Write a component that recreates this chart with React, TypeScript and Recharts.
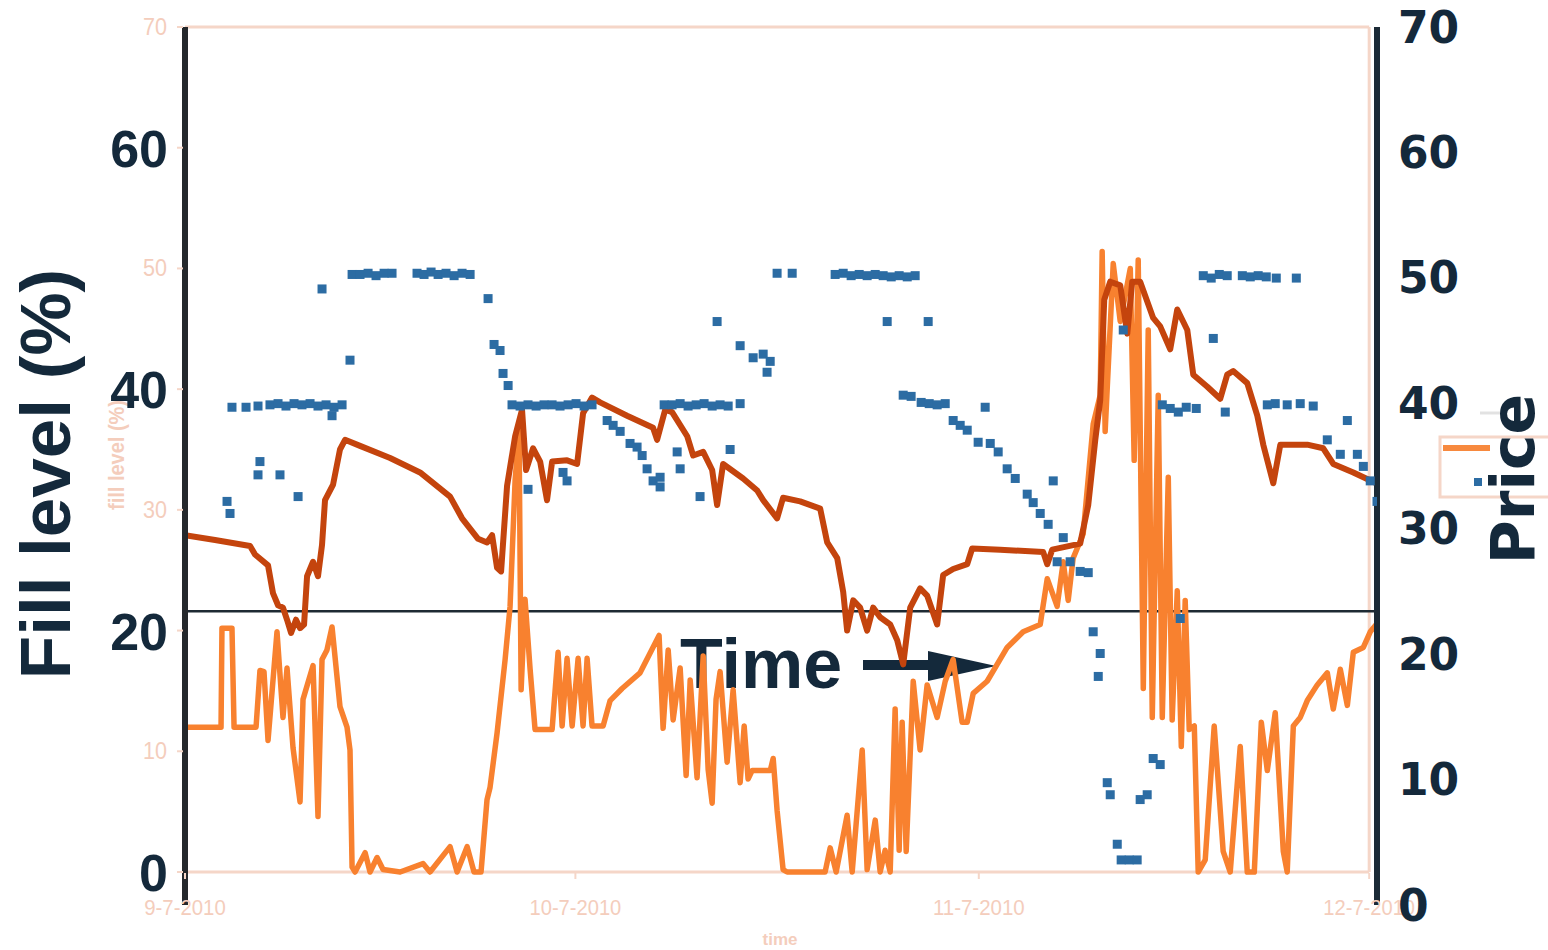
import React from 'react';
import { ComposedChart, Line, Scatter, XAxis, YAxis, ReferenceLine, Customized } from 'recharts';

const W = 1548;
const H = 950;
const NAVY = '#14293B';
const PINK_TEXT = '#F4CDBC';
const PINK_LINE = '#F5D6C8';
const ORANGE = '#F8812F';
const RUST = '#C4440D';
const BLUE = '#2C6CA3';

// x = days since 7 Sep 2010
const dateTicks = [0, 30, 61, 91];
const dateLabels = ['9-7-2010', '10-7-2010', '11-7-2010', '12-7-2010'];
const fillTicks = [0, 10, 20, 30, 40, 50, 60, 70];
const fillBoldTicks = [0, 20, 40, 60];
const priceTicks = [0, 10, 20, 30, 40, 50, 60, 70];
const thresholdLevel = 21.6;

// light orange series [day, value]
const fillLevelPts = [
  [0, 12.0], [2.77, 12.0], [2.84, 20.2], [3.61, 20.2], [3.77, 12.0], [5.46, 12.0], [5.76, 16.7], [6.07, 16.6], [6.38, 10.9], [7.07, 19.9],
  [7.53, 12.8], [7.84, 16.9], [8.30, 10.3], [8.84, 5.8], [9.07, 14.3], [9.84, 17.1], [10.22, 4.6], [10.53, 17.6], [10.91, 18.4], [11.30, 20.3],
  [11.91, 13.7], [12.45, 12.0], [12.68, 10.1], [12.84, 0.4], [13.07, 0], [13.84, 1.6], [14.22, 0], [14.76, 1.2], [15.22, 0.2], [16.53, 0],
  [18.29, 0.7], [18.83, 0], [20.37, 2.1], [20.91, 0], [21.68, 2.1], [22.21, 0], [22.75, 0], [23.21, 6.0], [23.44, 7.0], [23.98, 11.5],
  [24.60, 17.6], [24.98, 22.0], [25.37, 32.5], [25.67, 36.6], [25.83, 15.1], [26.13, 22.6], [26.52, 16.8], [26.90, 11.8], [28.21, 11.8], [28.67, 18.2],
  [28.98, 12.1], [29.36, 17.7], [29.75, 12.1], [30.21, 17.7], [30.59, 12.1], [30.90, 17.7], [31.28, 12.1], [32.13, 12.1], [32.67, 14.2], [33.59, 15.2],
  [34.97, 16.5], [36.43, 19.6], [36.74, 11.9], [37.13, 18.4], [37.51, 12.6], [38.05, 16.9], [38.51, 8.0], [38.82, 15.9], [39.35, 7.8], [39.82, 17.9],
  [40.20, 8.5], [40.51, 5.7], [40.81, 14.3], [41.12, 16.6], [41.66, 9.1], [42.12, 15.1], [42.66, 7.4], [42.97, 12.1], [43.27, 7.7], [43.58, 8.4],
  [44.97, 8.4], [45.20, 9.4], [45.50, 5.1], [45.96, 0.2], [46.27, 0], [49.19, 0], [49.58, 2.0], [50.04, 0], [50.88, 4.7], [51.27, 0],
  [52.04, 10.1], [52.42, 0.2], [53.04, 4.3], [53.42, 0], [53.80, 1.8], [54.19, 0], [54.57, 13.5], [54.88, 1.8], [55.11, 12.4], [55.42, 1.7],
  [55.96, 15.8], [56.49, 10.1], [57.03, 15.5], [57.80, 12.8], [58.42, 15.8], [59.03, 17.6], [59.72, 12.4], [60.11, 12.4], [60.57, 14.8], [61.64, 15.8],
  [62.41, 17.2], [63.18, 18.6], [64.41, 19.9], [65.72, 20.5], [66.26, 24.3], [67.02, 22.0], [67.49, 25.7], [67.87, 22.5], [68.25, 26.0], [69.02, 28.0],
  [69.79, 37.1], [70.33, 39.5], [70.48, 51.4], [70.71, 36.5], [71.33, 50.4], [71.87, 45.6], [72.64, 50.0], [72.94, 34.1], [73.25, 50.7], [73.64, 15.2],
  [74.02, 44.9], [74.33, 12.8], [74.79, 39.5], [75.10, 12.8], [75.56, 32.7], [75.86, 12.6], [76.25, 23.3], [76.56, 10.4], [76.86, 22.5], [77.17, 11.8],
  [77.56, 12.1], [77.86, 0], [78.40, 1.0], [79.09, 12.1], [79.78, 1.7], [80.32, 0], [81.09, 10.4], [81.63, 0], [82.17, 0], [82.71, 12.4],
  [83.17, 8.4], [83.78, 13.2], [84.40, 1.7], [84.70, 0], [85.17, 12.1], [85.70, 12.8], [86.24, 14.2], [87.01, 15.5], [87.78, 16.5], [88.24, 13.5],
  [88.78, 16.8], [89.32, 13.8], [89.78, 18.2], [90.55, 18.6], [91.08, 19.9], [91.54, 20.5],
];

// dark rust series [day, value]
const fillLevel2Pts = [
  [0, 27.9], [2.31, 27.5], [5.00, 27.0], [5.38, 26.3], [6.38, 25.4], [6.76, 23.1], [7.15, 22.1], [7.53, 21.9], [7.84, 20.9], [8.15, 19.8],
  [8.53, 20.9], [8.84, 20.2], [9.15, 20.5], [9.38, 24.5], [9.84, 25.7], [10.22, 24.5], [10.53, 27.1], [10.76, 30.8], [11.38, 32.1], [11.91, 35.0],
  [12.30, 35.8], [13.45, 35.3], [15.76, 34.3], [18.06, 33.1], [20.37, 31.1], [21.29, 29.3], [22.52, 27.6], [23.21, 27.3], [23.60, 27.9], [23.98, 25.2],
  [24.29, 24.9], [24.75, 32.0], [25.37, 36.1], [25.90, 38.3], [26.21, 33.3], [26.75, 35.1], [27.29, 34.0], [27.82, 30.8], [28.21, 34.0], [29.36, 34.1],
  [30.13, 33.8], [30.59, 38.0], [31.28, 39.3], [31.90, 38.9], [33.97, 37.8], [35.97, 36.8], [36.28, 35.8], [36.90, 38.3], [37.43, 38.1], [38.59, 36.1],
  [39.05, 34.5], [39.82, 34.8], [40.51, 33.3], [40.89, 30.4], [41.35, 33.8], [42.89, 32.6], [43.97, 31.6], [44.43, 30.8], [45.50, 29.3], [45.96, 31.0],
  [47.27, 30.7], [48.81, 30.1], [49.35, 27.3], [50.12, 26.0], [50.58, 23.2], [50.88, 20.0], [51.35, 22.5], [51.88, 21.9], [52.42, 20.0], [52.88, 21.9],
  [53.42, 21.1], [54.19, 20.5], [54.73, 19.2], [55.19, 17.2], [55.73, 21.9], [56.49, 23.5], [57.03, 22.9], [57.80, 20.5], [58.26, 24.6], [59.03, 25.1],
  [60.11, 25.5], [60.49, 26.8], [62.64, 26.7], [65.95, 26.5], [66.26, 25.5], [66.64, 26.7], [68.79, 27.2], [69.41, 30.4], [69.95, 35.8], [70.33, 39.1],
  [70.64, 47.4], [71.10, 48.9], [71.87, 48.6], [72.41, 44.6], [72.79, 48.9], [73.40, 48.9], [74.40, 45.9], [74.94, 45.2], [75.71, 43.3], [76.25, 46.6],
  [77.02, 44.9], [77.48, 41.2], [78.56, 40.2], [79.55, 39.2], [80.09, 41.2], [80.55, 41.5], [81.63, 40.5], [82.40, 37.8], [82.86, 35.4], [83.63, 32.2],
  [84.17, 35.4], [86.24, 35.4], [87.47, 35.1], [88.24, 33.8], [89.78, 33.1], [91.54, 32.2],
];

// blue price points [day, value]
const pricePts = [
  [3.23, 30.7], [3.46, 29.7],
  [3.61, 38.5], [4.69, 38.5], [5.61, 38.6], [6.53, 38.7], [7.15, 38.8], [7.76, 38.6], [8.38, 38.8], [8.99, 38.7], [9.61, 38.8], [10.22, 38.6], [10.84, 38.7], [11.45, 38.5], [12.07, 38.7],
  [11.30, 37.8], [5.76, 34.0], [5.61, 32.9], [7.30, 32.9], [8.69, 31.1],
  [10.53, 48.3], [12.68, 42.4],
  [12.84, 49.5], [13.45, 49.5], [14.07, 49.6], [14.68, 49.4], [15.30, 49.6], [15.91, 49.6], [17.83, 49.6], [18.37, 49.5], [18.91, 49.7], [19.45, 49.5], [20.06, 49.6], [20.68, 49.4], [21.29, 49.6], [21.91, 49.5],
  [23.29, 47.5], [23.75, 43.7], [24.21, 43.2], [24.44, 41.3], [24.83, 40.3],
  [25.13, 38.7], [25.75, 38.6], [26.36, 38.7], [26.98, 38.6], [27.59, 38.7], [28.21, 38.7], [28.82, 38.6], [29.44, 38.7], [30.05, 38.8], [30.67, 38.6], [31.28, 38.7],
  [26.36, 31.7], [29.05, 33.1], [29.36, 32.4],
  [32.44, 37.4], [32.90, 37.0], [33.44, 36.5], [34.20, 35.5], [34.74, 35.2], [35.13, 34.5], [35.51, 33.4], [35.97, 32.4], [36.51, 31.9],
  [36.82, 38.7], [37.43, 38.7], [38.05, 38.8], [38.66, 38.6], [39.28, 38.7], [39.89, 38.8], [40.51, 38.6], [41.12, 38.7], [41.74, 38.6], [42.66, 38.8],
  [37.82, 34.8], [38.05, 33.4], [36.51, 32.7], [39.58, 31.1], [41.89, 35.0],
  [40.89, 45.6], [42.66, 43.6], [43.66, 42.6], [44.43, 42.9], [44.97, 42.3], [44.73, 41.4],
  [45.50, 49.6], [46.66, 49.6],
  [49.96, 49.5], [50.58, 49.6], [51.19, 49.4], [51.81, 49.5], [52.42, 49.4], [53.04, 49.5], [53.65, 49.4], [54.27, 49.3], [54.88, 49.4], [55.50, 49.3], [56.11, 49.4],
  [53.96, 45.6], [57.11, 45.6],
  [55.19, 39.5], [55.80, 39.4], [56.57, 38.9], [57.19, 38.8], [57.80, 38.7], [58.42, 38.8], [59.03, 37.4], [59.57, 37.0], [60.11, 36.6], [61.49, 38.5],
  [60.95, 35.6], [61.88, 35.5], [62.49, 34.8], [63.18, 33.4], [63.80, 32.6], [64.72, 31.3], [65.18, 30.6], [65.72, 29.7], [66.33, 28.8], [66.72, 32.4],
  [67.49, 27.7], [67.02, 25.7], [68.02, 25.7], [68.79, 24.9], [69.41, 24.8],
  [69.79, 19.9], [70.33, 18.1], [70.18, 16.2],
  [70.87, 7.4], [71.10, 6.4], [71.64, 2.3], [71.94, 1.0], [72.56, 1.0], [73.17, 1.0], [73.40, 6.0], [73.94, 6.4], [74.40, 9.4], [74.94, 8.9],
  [72.10, 44.9],
  [75.10, 38.7], [75.71, 38.4], [76.33, 38.1], [76.94, 38.5], [77.71, 38.4], [79.94, 38.1],
  [76.48, 21.0],
  [78.25, 49.4], [78.86, 49.2], [79.48, 49.5], [80.09, 49.4], [81.25, 49.4], [81.86, 49.3], [82.47, 49.4], [83.09, 49.3], [83.86, 49.2], [85.40, 49.2],
  [79.02, 44.2],
  [83.17, 38.7], [83.78, 38.8], [84.70, 38.7], [85.70, 38.8], [86.70, 38.6],
  [87.78, 35.8], [89.32, 37.4], [88.78, 34.6], [90.09, 34.6], [90.55, 33.6], [91.08, 32.4], [91.60, 30.7],
];

const toRows = (pts: number[][]) => pts.map(([d, v]) => ({ d, v }));
const fillLevelData = toRows(fillLevelPts);
const fillLevel2Data = toRows(fillLevel2Pts);
const priceData = toRows(pricePts);

const SANS = "'Liberation Sans', Arial, sans-serif";
const DEJAVU = "'DejaVu Sans', Verdana, sans-serif";

const FillTick = (props: any) => {
  const { y, payload } = props;
  const v = payload.value;
  const bold = fillBoldTicks.includes(v);
  return (
    <g>
      <line x1={177} x2={183} y1={y} y2={y} stroke={PINK_LINE} strokeWidth={2} />
      {bold ? (
        <text x={168} y={y + 1} textAnchor="end" dominantBaseline="central" fontFamily={SANS} fontWeight="bold" fontSize={52} fill={NAVY}>
          {v}
        </text>
      ) : (
        <text
          x={167}
          y={y}
          textAnchor="end"
          dominantBaseline="central"
          fontFamily={SANS}
          fontSize={23}
          textLength={24}
          lengthAdjust="spacingAndGlyphs"
          fill={PINK_TEXT}
        >
          {v}
        </text>
      )}
    </g>
  );
};

const PriceTick = (props: any) => {
  const { y, payload } = props;
  return (
    <text x={1398} y={y} textAnchor="start" dominantBaseline="central" fontFamily={DEJAVU} fontWeight="bold" fontSize={44} fill={NAVY}>
      {payload.value}
    </text>
  );
};

const DateTick = (props: any) => {
  const { x, payload, index } = props;
  const label = dateLabels[dateTicks.indexOf(payload.value)] ?? dateLabels[index];
  return (
    <g>
      <line x1={x} x2={x} y1={873} y2={879} stroke={PINK_LINE} strokeWidth={2} />
      <text
        x={x}
        y={907}
        textAnchor="middle"
        dominantBaseline="central"
        fontFamily={SANS}
        fontSize={22}
        textLength={label.length * 10.2}
        lengthAdjust="spacingAndGlyphs"
        fill={PINK_TEXT}
      >
        {label}
      </text>
    </g>
  );
};

const Overlay = () => (
  <g>
    <text transform="translate(70,474) rotate(-90)" textAnchor="middle" fontFamily={SANS} fontWeight="bold" fontSize={71} fill={NAVY}>
      Fill level (%)
    </text>
    <text
      transform="translate(124,455) rotate(-90)"
      textAnchor="middle"
      fontFamily={SANS}
      fontWeight="bold"
      fontSize={22}
      textLength={110}
      lengthAdjust="spacingAndGlyphs"
      fill={PINK_TEXT}
    >
      fill level (%)
    </text>
    {/* faint legend */}
    <line x1={1480} x2={1503} y1={413} y2={413} stroke="#E2E2E2" strokeWidth={3} />
    <rect x={1440} y={437} width={130} height={60} fill="none" stroke={PINK_LINE} strokeWidth={3} />
    <line x1={1443} x2={1490} y1={448} y2={448} stroke="#F7893E" strokeWidth={6} />
    <rect x={1474} y={478} width={8} height={8} fill={BLUE} />
    <text transform="translate(1534,479) rotate(-90)" textAnchor="middle" fontFamily={DEJAVU} fontWeight="bold" fontSize={60} fill={NAVY}>
      Price
    </text>
    <text x={680} y={688} fontFamily={SANS} fontWeight="bold" fontSize={70} fill={NAVY}>
      Time
    </text>
    <line x1={863} y1={665} x2={935} y2={665} stroke={NAVY} strokeWidth={10} />
    <polygon points="928,651 996,666 928,681" fill={NAVY} />
    <text x={780} y={945} textAnchor="middle" fontFamily={SANS} fontWeight="bold" fontSize={17} fill={PINK_TEXT}>
      time
    </text>
  </g>
);

const squareShape = (p: any) => <rect x={p.cx - 4.5} y={p.cy - 4.5} width={9} height={9} fill={BLUE} />;

export default function App() {
  return (
    <div style={{ position: 'absolute', left: 0, top: 0, width: W, height: H, background: '#FFFFFF' }}>
      <ComposedChart width={W} height={H} margin={{ top: 27, right: 0, bottom: 0, left: 0 }}>
        <XAxis
          xAxisId={0}
          dataKey="d"
          type="number"
          domain={[0, 91.6]}
          allowDataOverflow
          ticks={dateTicks}
          interval={0}
          height={45}
          axisLine={false}
          tickLine={false}
          tick={<DateTick />}
        />
        <YAxis
          yAxisId="fill"
          type="number"
          domain={[-2.734, 70]}
          allowDataOverflow
          ticks={fillTicks}
          interval={0}
          width={185}
          axisLine={{ stroke: '#24282C', strokeWidth: 6 }}
          tickLine={false}
          tick={<FillTick />}
        />
        <YAxis
          yAxisId="price"
          orientation="right"
          type="number"
          domain={[0, 70]}
          allowDataOverflow
          ticks={priceTicks}
          interval={0}
          width={171}
          axisLine={{ stroke: '#1B2A36', strokeWidth: 6 }}
          tickLine={false}
          tick={<PriceTick />}
        />
        <ReferenceLine yAxisId="fill" segment={[{ x: 0, y: 70 }, { x: 91, y: 70 }]} stroke={PINK_LINE} strokeWidth={3} />
        <ReferenceLine yAxisId="fill" segment={[{ x: 0, y: 0 }, { x: 91, y: 0 }]} stroke={PINK_LINE} strokeWidth={3} />
        <ReferenceLine yAxisId="fill" segment={[{ x: 91, y: 0 }, { x: 91, y: 70 }]} stroke={PINK_LINE} strokeWidth={3} />
        <ReferenceLine yAxisId="fill" y={thresholdLevel} stroke="#1E2A33" strokeWidth={2.5} />
        <Line
          yAxisId="fill"
          data={fillLevelData}
          dataKey="v"
          type="linear"
          stroke={ORANGE}
          strokeWidth={5.5}
          strokeLinejoin="round"
          dot={false}
          activeDot={false}
          isAnimationActive={false}
        />
        <Line
          yAxisId="fill"
          data={fillLevel2Data}
          dataKey="v"
          type="linear"
          stroke={RUST}
          strokeWidth={6}
          strokeLinejoin="round"
          dot={false}
          activeDot={false}
          isAnimationActive={false}
        />
        <Scatter yAxisId="fill" data={priceData} dataKey="v" shape={squareShape} isAnimationActive={false} />
        <Customized component={<Overlay />} />
      </ComposedChart>
    </div>
  );
}
